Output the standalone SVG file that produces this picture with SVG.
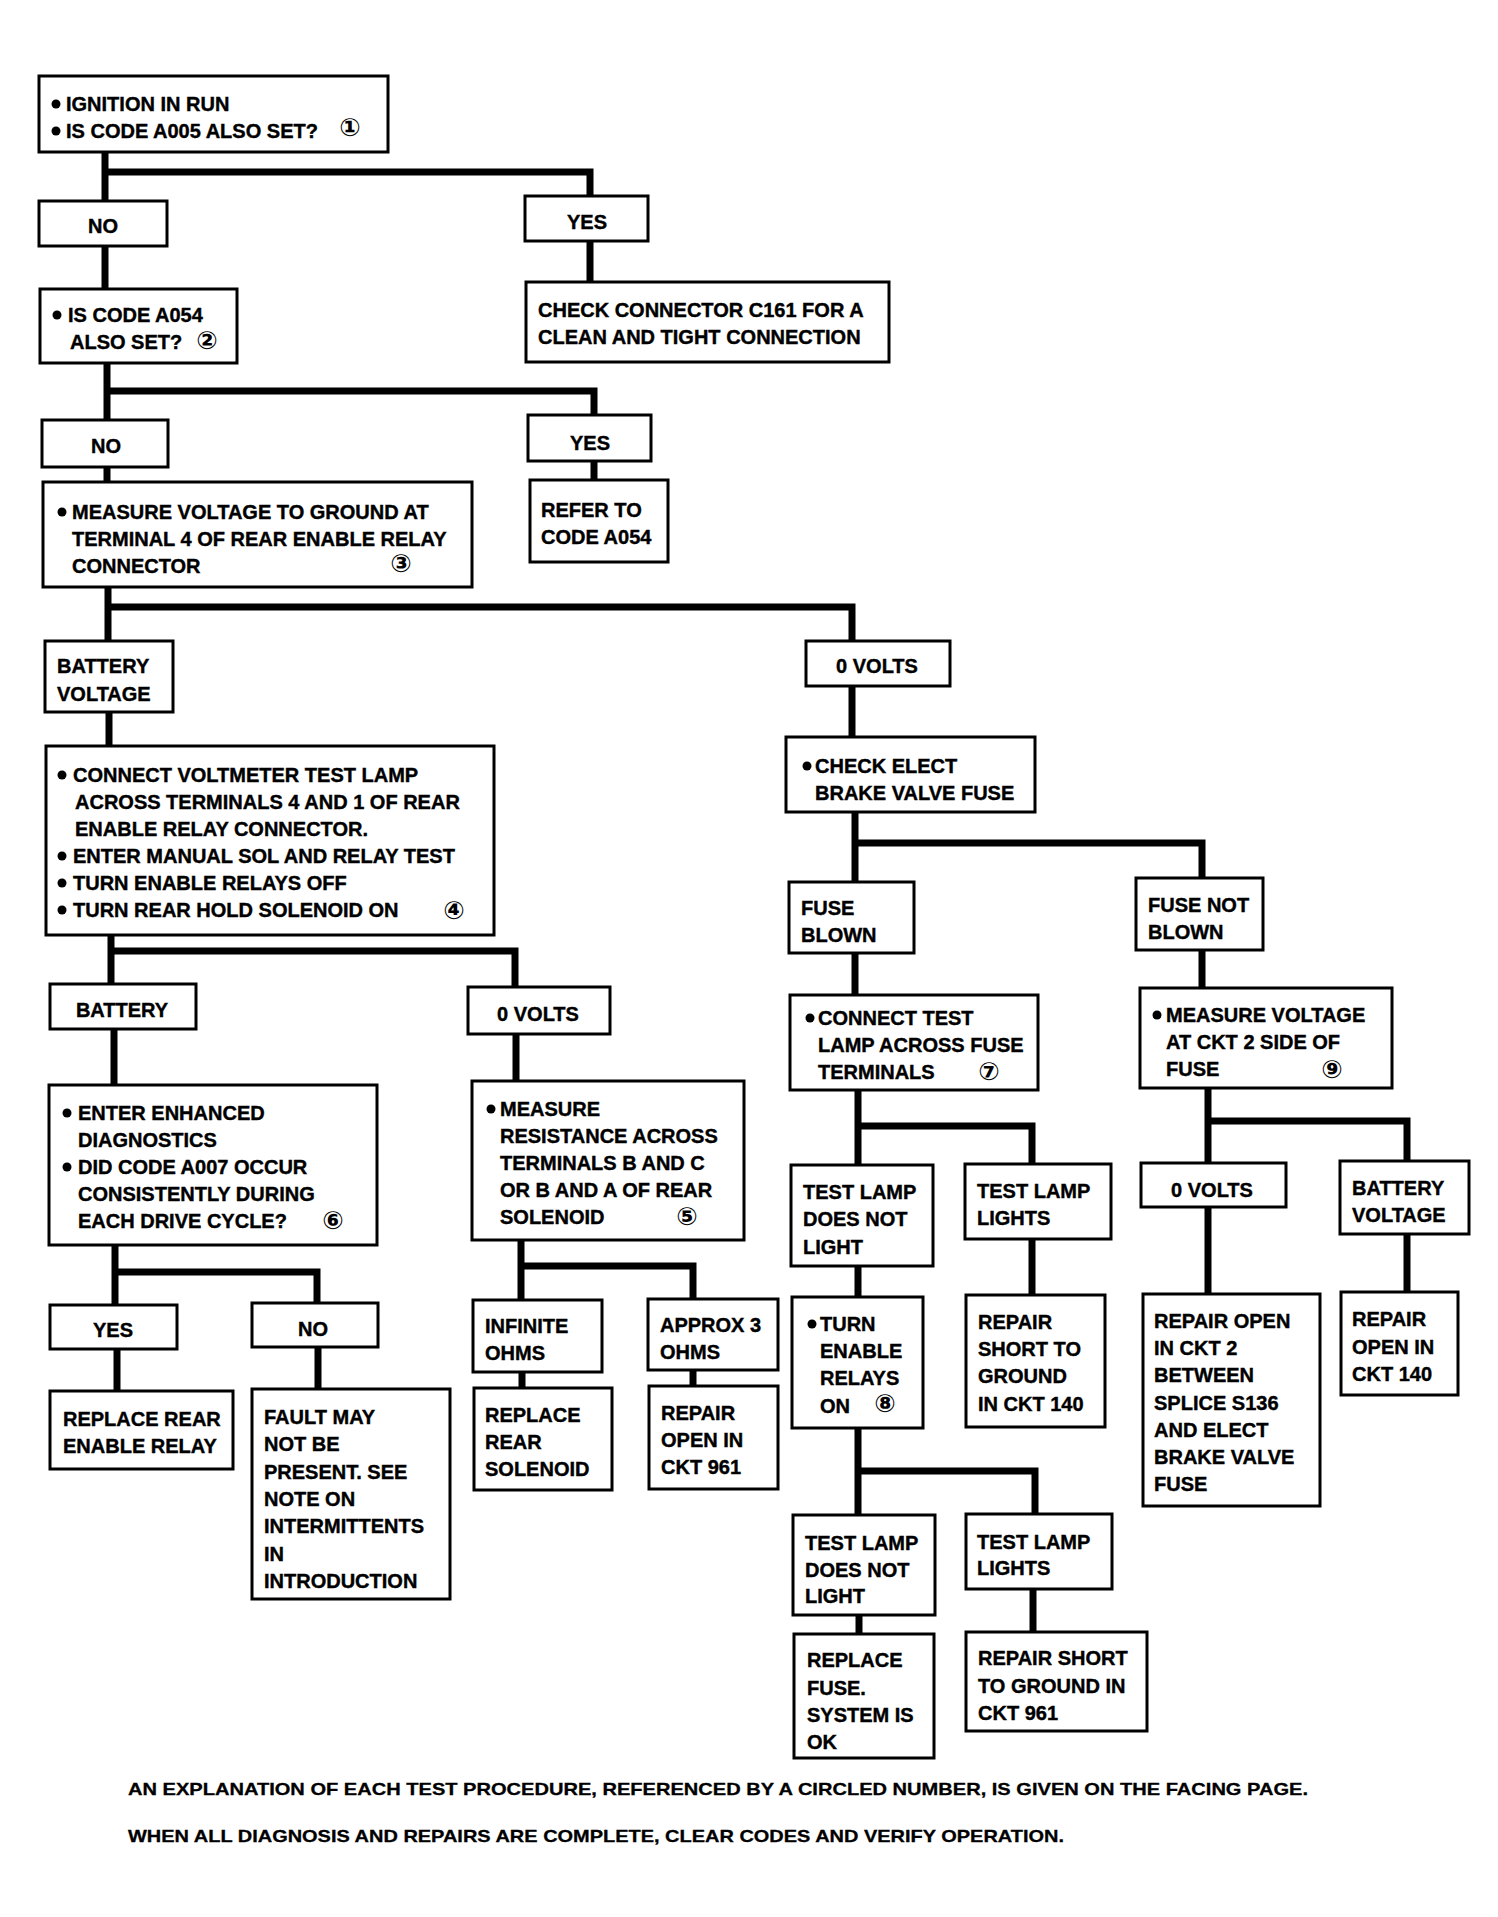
<svg xmlns="http://www.w3.org/2000/svg" width="1498" height="1917" viewBox="0 0 1498 1917">
<style>
.box{fill:#fff;stroke:#000;stroke-width:3}
.w{fill:none;stroke:#000;stroke-width:7;stroke-linejoin:miter}
.t{font-family:"Liberation Sans",Arial,sans-serif;font-weight:bold;font-size:20px;fill:#000;stroke:#000;stroke-width:0.4}
.m{text-anchor:middle}
.d{fill:#000}
.n{font-family:"DejaVu Sans","Noto Sans CJK SC",sans-serif;font-weight:bold;font-size:25px;text-anchor:middle;fill:#000}
.f{font-family:"Liberation Sans",Arial,sans-serif;font-weight:bold;font-size:17px;fill:#000;stroke:#000;stroke-width:0.3}
</style>
<defs><circle id="dot" r="4.5"/></defs>
<rect width="1498" height="1917" fill="#fff"/>
<g id="connectors">
<path class="w" d="M105,152V201M105,172H590V196"/>
<path class="w" d="M590,241V282"/>
<path class="w" d="M105,246V289"/>
<path class="w" d="M107,363V420M107,391H594V415"/>
<path class="w" d="M594,461V480"/>
<path class="w" d="M107,467V482"/>
<path class="w" d="M108,587V641M108,607H852V641"/>
<path class="w" d="M109,712V746"/>
<path class="w" d="M111,935V984M111,951H515V987"/>
<path class="w" d="M114,1029V1085"/>
<path class="w" d="M516,1034V1081"/>
<path class="w" d="M115,1245V1305M115,1272H317V1303"/>
<path class="w" d="M117,1349V1391"/>
<path class="w" d="M318,1347V1389"/>
<path class="w" d="M521,1240V1300M521,1266H693V1299"/>
<path class="w" d="M522,1372V1388"/>
<path class="w" d="M693,1370V1386"/>
<path class="w" d="M852,686V737"/>
<path class="w" d="M855,812V882M855,843H1202V878"/>
<path class="w" d="M855,953V995"/>
<path class="w" d="M1202,950V988"/>
<path class="w" d="M858,1090V1165M858,1126H1032V1164"/>
<path class="w" d="M858,1266V1297"/>
<path class="w" d="M1032,1239V1295"/>
<path class="w" d="M858,1428V1515M858,1471H1035V1514"/>
<path class="w" d="M859,1615V1634"/>
<path class="w" d="M1033,1589V1632"/>
<path class="w" d="M1208,1088V1163M1208,1121H1407V1161"/>
<path class="w" d="M1208,1207V1294"/>
<path class="w" d="M1407,1234V1292"/>
</g>
<g id="n1"><rect class="box" x="39" y="76" width="349" height="76"/>
<use href="#dot" x="56" y="104"/><use href="#dot" x="56" y="131"/>
<text class="t" x="66" y="111">IGNITION IN RUN</text>
<text class="t" x="66" y="138">IS CODE A005 ALSO SET?</text>
<text class="n" x="350" y="136">①</text></g>
<g id="n2"><rect class="box" x="39" y="201" width="128" height="45"/><text class="t m" x="103" y="233">NO</text></g>
<g id="n3"><rect class="box" x="525" y="196" width="123" height="45"/><text class="t m" x="587" y="229">YES</text></g>
<g id="n4"><rect class="box" x="526" y="282" width="363" height="80"/>
<text class="t" x="538" y="317">CHECK CONNECTOR C161 FOR A</text>
<text class="t" x="538" y="344">CLEAN AND TIGHT CONNECTION</text></g>
<g id="n5"><rect class="box" x="40" y="289" width="197" height="74"/>
<use href="#dot" x="57" y="315"/>
<text class="t" x="68" y="322">IS CODE A054</text>
<text class="t" x="70" y="349">ALSO SET?</text>
<text class="n" x="207" y="349">②</text></g>
<g id="n6"><rect class="box" x="42" y="420" width="126" height="47"/><text class="t m" x="106" y="453">NO</text></g>
<g id="n7"><rect class="box" x="528" y="415" width="123" height="46"/><text class="t m" x="590" y="450">YES</text></g>
<g id="n8"><rect class="box" x="530" y="480" width="138" height="82"/>
<text class="t" x="541" y="517">REFER TO</text>
<text class="t" x="541" y="544">CODE A054</text></g>
<g id="n9"><rect class="box" x="43" y="482" width="429" height="105"/>
<use href="#dot" x="62" y="512"/>
<text class="t" x="72" y="519">MEASURE VOLTAGE TO GROUND AT</text>
<text class="t" x="72" y="546">TERMINAL 4 OF REAR ENABLE RELAY</text>
<text class="t" x="72" y="573">CONNECTOR</text>
<text class="n" x="401" y="572">③</text></g>
<g id="n10"><rect class="box" x="45" y="641" width="128" height="71"/>
<text class="t" x="57" y="673">BATTERY</text>
<text class="t" x="57" y="701">VOLTAGE</text></g>
<g id="n11"><rect class="box" x="806" y="641" width="144" height="45"/><text class="t m" x="877" y="673">0 VOLTS</text></g>
<g id="n12"><rect class="box" x="46" y="746" width="448" height="189"/>
<use href="#dot" x="62" y="775"/><use href="#dot" x="62" y="856"/><use href="#dot" x="62" y="883"/><use href="#dot" x="62" y="910"/>
<text class="t" x="73" y="782">CONNECT VOLTMETER TEST LAMP</text>
<text class="t" x="75" y="809">ACROSS TERMINALS 4 AND 1 OF REAR</text>
<text class="t" x="75" y="836">ENABLE RELAY CONNECTOR.</text>
<text class="t" x="73" y="863">ENTER MANUAL SOL AND RELAY TEST</text>
<text class="t" x="73" y="890">TURN ENABLE RELAYS OFF</text>
<text class="t" x="73" y="917">TURN REAR HOLD SOLENOID ON</text>
<text class="n" x="454" y="919">④</text></g>
<g id="n13"><rect class="box" x="50" y="984" width="146" height="45"/><text class="t m" x="122" y="1017">BATTERY</text></g>
<g id="n14"><rect class="box" x="468" y="987" width="142" height="47"/><text class="t m" x="538" y="1021">0 VOLTS</text></g>
<g id="n15"><rect class="box" x="49" y="1085" width="328" height="160"/>
<use href="#dot" x="67" y="1113"/><use href="#dot" x="67" y="1167"/>
<text class="t" x="78" y="1120">ENTER ENHANCED</text>
<text class="t" x="78" y="1147">DIAGNOSTICS</text>
<text class="t" x="78" y="1174">DID CODE A007 OCCUR</text>
<text class="t" x="78" y="1201">CONSISTENTLY DURING</text>
<text class="t" x="78" y="1228">EACH DRIVE CYCLE?</text>
<text class="n" x="333" y="1229">⑥</text></g>
<g id="n16"><rect class="box" x="50" y="1305" width="127" height="44"/><text class="t m" x="113" y="1337">YES</text></g>
<g id="n17"><rect class="box" x="252" y="1303" width="126" height="44"/><text class="t m" x="313" y="1336">NO</text></g>
<g id="n18"><rect class="box" x="50" y="1391" width="183" height="78"/>
<text class="t" x="63" y="1426">REPLACE REAR</text>
<text class="t" x="63" y="1453">ENABLE RELAY</text></g>
<g id="n19"><rect class="box" x="252" y="1389" width="198" height="210"/>
<text class="t" x="264" y="1424">FAULT MAY</text>
<text class="t" x="264" y="1451">NOT BE</text>
<text class="t" x="264" y="1479">PRESENT. SEE</text>
<text class="t" x="264" y="1506">NOTE ON</text>
<text class="t" x="264" y="1533">INTERMITTENTS</text>
<text class="t" x="264" y="1561">IN</text>
<text class="t" x="264" y="1588">INTRODUCTION</text></g>
<g id="n20"><rect class="box" x="472" y="1081" width="272" height="159"/>
<use href="#dot" x="491" y="1109"/>
<text class="t" x="500" y="1116">MEASURE</text>
<text class="t" x="500" y="1143">RESISTANCE ACROSS</text>
<text class="t" x="500" y="1170">TERMINALS B AND C</text>
<text class="t" x="500" y="1197">OR B AND A OF REAR</text>
<text class="t" x="500" y="1224">SOLENOID</text>
<text class="n" x="687" y="1225">⑤</text></g>
<g id="n21"><rect class="box" x="473" y="1300" width="129" height="72"/>
<text class="t" x="485" y="1333">INFINITE</text>
<text class="t" x="485" y="1360">OHMS</text></g>
<g id="n22"><rect class="box" x="648" y="1299" width="130" height="71"/>
<text class="t" x="660" y="1332">APPROX 3</text>
<text class="t" x="660" y="1359">OHMS</text></g>
<g id="n23"><rect class="box" x="474" y="1388" width="138" height="102"/>
<text class="t" x="485" y="1422">REPLACE</text>
<text class="t" x="485" y="1449">REAR</text>
<text class="t" x="485" y="1476">SOLENOID</text></g>
<g id="n24"><rect class="box" x="649" y="1386" width="129" height="103"/>
<text class="t" x="661" y="1420">REPAIR</text>
<text class="t" x="661" y="1447">OPEN IN</text>
<text class="t" x="661" y="1474">CKT 961</text></g>
<g id="n25"><rect class="box" x="786" y="737" width="249" height="75"/>
<use href="#dot" x="807" y="766"/>
<text class="t" x="815" y="773">CHECK ELECT</text>
<text class="t" x="815" y="800">BRAKE VALVE FUSE</text></g>
<g id="n26"><rect class="box" x="789" y="882" width="125" height="71"/>
<text class="t" x="801" y="915">FUSE</text>
<text class="t" x="801" y="942">BLOWN</text></g>
<g id="n27"><rect class="box" x="1136" y="878" width="127" height="72"/>
<text class="t" x="1148" y="912">FUSE NOT</text>
<text class="t" x="1148" y="939">BLOWN</text></g>
<g id="n28"><rect class="box" x="790" y="995" width="248" height="95"/>
<use href="#dot" x="810" y="1018"/>
<text class="t" x="818" y="1025">CONNECT TEST</text>
<text class="t" x="818" y="1052">LAMP ACROSS FUSE</text>
<text class="t" x="818" y="1079">TERMINALS</text>
<text class="n" x="989" y="1080">⑦</text></g>
<g id="n29"><rect class="box" x="1140" y="988" width="252" height="100"/>
<use href="#dot" x="1157" y="1015"/>
<text class="t" x="1166" y="1022">MEASURE VOLTAGE</text>
<text class="t" x="1166" y="1049">AT CKT 2 SIDE OF</text>
<text class="t" x="1166" y="1076">FUSE</text>
<text class="n" x="1332" y="1078">⑨</text></g>
<g id="n30"><rect class="box" x="791" y="1165" width="142" height="101"/>
<text class="t" x="803" y="1199">TEST LAMP</text>
<text class="t" x="803" y="1226">DOES NOT</text>
<text class="t" x="803" y="1254">LIGHT</text></g>
<g id="n31"><rect class="box" x="965" y="1164" width="146" height="75"/>
<text class="t" x="977" y="1198">TEST LAMP</text>
<text class="t" x="977" y="1225">LIGHTS</text></g>
<g id="n32"><rect class="box" x="792" y="1297" width="131" height="131"/>
<use href="#dot" x="812" y="1324"/>
<text class="t" x="820" y="1331">TURN</text>
<text class="t" x="820" y="1358">ENABLE</text>
<text class="t" x="820" y="1385">RELAYS</text>
<text class="t" x="820" y="1413">ON</text>
<text class="n" x="885" y="1412">⑧</text></g>
<g id="n33"><rect class="box" x="966" y="1295" width="139" height="132"/>
<text class="t" x="978" y="1329">REPAIR</text>
<text class="t" x="978" y="1356">SHORT TO</text>
<text class="t" x="978" y="1383">GROUND</text>
<text class="t" x="978" y="1411">IN CKT 140</text></g>
<g id="n34"><rect class="box" x="793" y="1515" width="142" height="100"/>
<text class="t" x="805" y="1550">TEST LAMP</text>
<text class="t" x="805" y="1577">DOES NOT</text>
<text class="t" x="805" y="1603">LIGHT</text></g>
<g id="n35"><rect class="box" x="966" y="1514" width="146" height="75"/>
<text class="t" x="977" y="1549">TEST LAMP</text>
<text class="t" x="977" y="1575">LIGHTS</text></g>
<g id="n36"><rect class="box" x="794" y="1634" width="140" height="124"/>
<text class="t" x="807" y="1667">REPLACE</text>
<text class="t" x="807" y="1695">FUSE.</text>
<text class="t" x="807" y="1722">SYSTEM IS</text>
<text class="t" x="807" y="1749">OK</text></g>
<g id="n37"><rect class="box" x="966" y="1632" width="181" height="99"/>
<text class="t" x="978" y="1665">REPAIR SHORT</text>
<text class="t" x="978" y="1693">TO GROUND IN</text>
<text class="t" x="978" y="1720">CKT 961</text></g>
<g id="n38"><rect class="box" x="1141" y="1163" width="145" height="44"/><text class="t m" x="1212" y="1197">0 VOLTS</text></g>
<g id="n39"><rect class="box" x="1340" y="1161" width="129" height="73"/>
<text class="t" x="1352" y="1195">BATTERY</text>
<text class="t" x="1352" y="1222">VOLTAGE</text></g>
<g id="n40"><rect class="box" x="1143" y="1294" width="177" height="212"/>
<text class="t" x="1154" y="1328">REPAIR OPEN</text>
<text class="t" x="1154" y="1355">IN CKT 2</text>
<text class="t" x="1154" y="1382">BETWEEN</text>
<text class="t" x="1154" y="1410">SPLICE S136</text>
<text class="t" x="1154" y="1437">AND ELECT</text>
<text class="t" x="1154" y="1464">BRAKE VALVE</text>
<text class="t" x="1154" y="1491">FUSE</text></g>
<g id="n41"><rect class="box" x="1341" y="1292" width="117" height="103"/>
<text class="t" x="1352" y="1326">REPAIR</text>
<text class="t" x="1352" y="1354">OPEN IN</text>
<text class="t" x="1352" y="1381">CKT 140</text></g>
<g id="footer">
<text class="f" x="128" y="1795" textLength="1180" lengthAdjust="spacingAndGlyphs">AN EXPLANATION OF EACH TEST PROCEDURE, REFERENCED BY A CIRCLED NUMBER,  IS GIVEN ON THE FACING PAGE.</text>
<text class="f" x="128" y="1842" textLength="936" lengthAdjust="spacingAndGlyphs">WHEN ALL DIAGNOSIS AND REPAIRS ARE COMPLETE, CLEAR CODES AND VERIFY OPERATION.</text>
</g>
</svg>
